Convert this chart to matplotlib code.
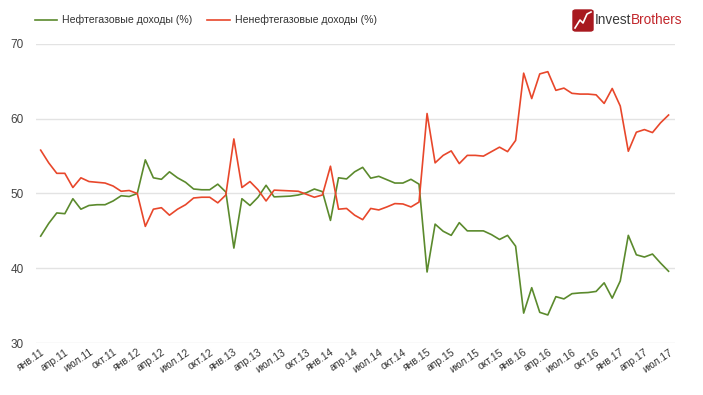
import matplotlib
matplotlib.use("Agg")
import matplotlib.pyplot as plt
from matplotlib.patches import FancyBboxPatch
from matplotlib.lines import Line2D

plt.rcParams["font.family"] = ["Liberation Sans", "DejaVu Sans"]

# monthly shares of budget revenue, Jan 2011 .. Jul 2017
month_names = ["янв", "фев", "мар", "апр", "май", "июн",
               "июл", "авг", "сен", "окт", "ноя", "дек"]
years = [11, 12, 13, 14, 15, 16, 17]

oil_gas = [44.3, 46.0, 47.4, 47.3, 49.3, 47.9, 48.4, 48.5, 48.5, 49.0, 49.7, 49.6,
           50.0, 54.5, 52.1, 51.9, 52.9, 52.1, 51.5, 50.6, 50.5, 50.5, 51.25, 50.2,
           42.7, 49.3, 48.4, 49.5, 51.1, 49.55, 49.6, 49.65, 49.8, 50.1, 50.6, 50.25,
           46.4, 52.1, 51.95, 52.9, 53.5, 52.05, 52.3, 51.85, 51.4, 51.4, 51.9, 51.25,
           39.5, 45.9, 44.95, 44.4, 46.1, 45.0, 45.0, 45.0, 44.5, 43.85, 44.4, 42.95,
           34.0, 37.4, 34.1, 33.75, 36.2, 35.9, 36.6, 36.7, 36.75, 36.9, 38.05, 36.0,
           38.3, 44.4, 41.8, 41.5, 41.9, 40.7, 39.6]

non_oil_gas = [55.8, 54.1, 52.7, 52.7, 50.8, 52.1, 51.6, 51.5, 51.4, 51.0, 50.3, 50.4,
               50.0, 45.6, 47.9, 48.1, 47.1, 47.9, 48.5, 49.4, 49.5, 49.5, 48.75, 49.8,
               57.3, 50.8, 51.6, 50.5, 49.0, 50.45, 50.4, 50.35, 50.3, 49.9, 49.5, 49.8,
               53.65, 47.9, 48.0, 47.1, 46.5, 48.0, 47.8, 48.2, 48.65, 48.6, 48.2, 48.85,
               60.7, 54.1, 55.1, 55.7, 54.0, 55.1, 55.1, 55.0, 55.6, 56.2, 55.6, 57.1,
               66.1, 62.7, 66.0, 66.3, 63.8, 64.1, 63.4, 63.3, 63.3, 63.2, 62.05, 64.05,
               61.7, 55.65, 58.2, 58.55, 58.15, 59.45, 60.5]

labels = [f"{m}.{y}" for y in years for m in month_names][:len(oil_gas)]

GREEN = "#5b8a2d"
RED = "#e8472b"

fig = plt.figure(figsize=(7.03, 3.95), dpi=100)
ax = fig.add_axes([36 / 703, 1 - 343 / 395, (675 - 36) / 703, (343 - 44) / 395])

x = list(range(len(oil_gas)))
ax.plot(x, oil_gas, color=GREEN, lw=1.2, label="Нефтегазовые доходы (%)")
ax.plot(x, non_oil_gas, color=RED, lw=1.2, label="Ненефтегазовые доходы (%)")

ax.set_xlim(-0.58, len(x) - 1 + 0.8)
ax.set_ylim(30, 70)
ax.set_yticks([30, 40, 50, 60, 70])
ax.grid(axis="y", color="#e3e3e3", lw=1)
ax.set_axisbelow(True)
for s in ax.spines.values():
    s.set_visible(False)
ax.tick_params(length=0, colors="#444444", labelsize=8.5)
ax.tick_params(axis="y", pad=9)

ticks = x[::3]
ax.set_xticks(ticks)
ax.set_xticklabels([labels[i] for i in ticks], rotation=34, ha="right",
                   va="top", rotation_mode="anchor", fontsize=7.5, color="#333333")
ax.tick_params(axis="x", pad=3)

ax.legend(loc="center left", bbox_to_anchor=(35 / 703, 1 - 20 / 395),
          bbox_transform=fig.transFigure, ncol=2, frameon=False,
          borderpad=0, borderaxespad=0,
          fontsize=7.6, handlelength=2.1, handletextpad=0.5, columnspacing=1.4,
          labelcolor="#333333")

# logo
fig.patches.append(FancyBboxPatch((573 / 703, 1 - 31 / 395), 20 / 703, 21 / 395,
                                  boxstyle="round,pad=0,rounding_size=0.004",
                                  transform=fig.transFigure, color="#a8191f"))
zig_x = [575, 580, 583, 587, 591]
zig_y = [28, 20, 23, 14, 12]
fig.add_artist(Line2D([v / 703 for v in zig_x], [1 - v / 395 for v in zig_y],
                      transform=fig.transFigure, color="white", lw=1.2))
t1 = fig.text(595 / 703, 1 - 20 / 395, "Invest", fontsize=9.8, color="#3a3a3a",
              va="center", ha="left")
fig.canvas.draw()
bb = t1.get_window_extent()
fig.text(bb.x1 / 703, 1 - 20 / 395, "Brothers", fontsize=9.8, color="#c2262b",
         va="center", ha="left")

fig.savefig("out.png", dpi=100)
